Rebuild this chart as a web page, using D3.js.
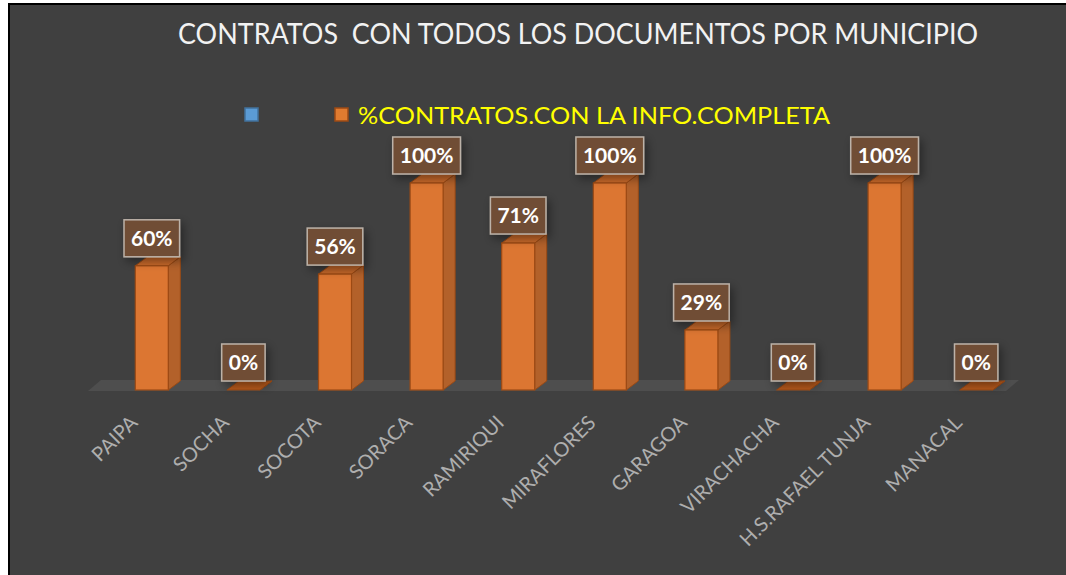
<!DOCTYPE html>
<html>
<head>
<meta charset="utf-8">
<title>Contratos por municipio</title>
<script src="https://d3js.org/d3.v7.min.js"></script>
<style>
  html, body { margin: 0; padding: 0; background: #ffffff; }
  svg { display: block; }
</style>
</head>
<body>
<div id="chart"></div>
<script>
// datos del grafico
const municipios = ["PAIPA", "SOCHA", "SOCOTA", "SORACA", "RAMIRIQUI", "MIRAFLORES", "GARAGOA", "VIRACHACHA", "H.S.RAFAEL TUNJA", "MANACAL"];
const porcentajes = [60, 0, 56, 100, 71, 100, 29, 0, 100, 0];
const titulo = "CONTRATOS  CON TODOS LOS DOCUMENTOS POR MUNICIPIO";
const serieVacia = "";
const serieNombre = "%CONTRATOS.CON LA INFO.COMPLETA";

const W = 1066, H = 575;
const font = "Lato, 'Open Sans', sans-serif";

const svg = d3.select("#chart").append("svg")
  .attr("width", W).attr("height", H);

// sombra
const defs = svg.append("defs");
const sh = defs.append("filter").attr("id", "sombra")
  .attr("x", "-40%").attr("y", "-40%").attr("width", "200%").attr("height", "200%");
sh.append("feDropShadow").attr("dx", 3).attr("dy", 4).attr("stdDeviation", 5)
  .attr("flood-color", "#000").attr("flood-opacity", 0.4);

// fondo y borde
svg.append("rect").attr("x", 9).attr("y", 4).attr("width", W - 9).attr("height", H - 4)
  .attr("fill", "#404040");
svg.append("line").attr("x1", 9).attr("x2", 9).attr("y1", 3).attr("y2", H)
  .attr("stroke", "#000").attr("stroke-width", 2);
svg.append("line").attr("x1", 8).attr("x2", W).attr("y1", 4).attr("y2", 4)
  .attr("stroke", "#000").attr("stroke-width", 2);

// titulo
svg.append("text")
  .attr("x", 178).attr("y", 44)
  .attr("textLength", 800).attr("lengthAdjust", "spacingAndGlyphs")
  .attr("font-family", font).attr("font-size", 29)
  .attr("fill", "#f2f2f2")
  .style("white-space", "pre")
  .text(titulo);

// leyenda
const leyenda = svg.append("g");
leyenda.append("rect").attr("x", 245).attr("y", 108).attr("width", 13).attr("height", 13)
  .attr("fill", "#5b9bd5").attr("stroke", "#41719c").attr("stroke-width", 1.5);
leyenda.append("text").attr("x", 262).attr("y", 124).text(serieVacia);
leyenda.append("rect").attr("x", 335).attr("y", 108).attr("width", 13).attr("height", 13)
  .attr("fill", "#e07b30").attr("stroke", "#9c4a14").attr("stroke-width", 1.5);
leyenda.append("text")
  .attr("x", 358).attr("y", 124)
  .attr("textLength", 472).attr("lengthAdjust", "spacingAndGlyphs")
  .attr("font-family", font).attr("font-size", 24)
  .attr("fill", "#ffff00")
  .text(serieNombre);

// escalas
const x = d3.scaleBand().domain(municipios).range([106, 1022]).paddingInner(0).paddingOuter(0);
const y = d3.scaleLinear().domain([0, 100]).range([390, 183]);
const barW = 33;
const dx = 12, dy = -9;

// piso
const x0 = x.range()[0] - 18, x1 = x.range()[1] - 16, yb = y(0) + 1;
svg.append("path")
  .attr("d", `M${x0},${yb} L${x1},${yb} L${x1 + dx + 1},${yb + dy - 2} L${x0 + dx + 1},${yb + dy - 2} Z`)
  .attr("fill", "#4e4e4e");

// barras 3D
const barras = svg.selectAll("g.barra")
  .data(municipios.map((m, i) => ({ m, v: porcentajes[i] })))
  .join("g").attr("class", "barra");

const cx = d => x(d.m) + x.bandwidth() / 2;
const left = d => cx(d) - barW / 2;

barras.append("path") // lado
  .attr("d", d => {
    const l = left(d) + barW, t = y(d.v), b = y(0);
    return `M${l},${b} L${l},${t} L${l + dx},${t + dy} L${l + dx},${b + dy} Z`;
  })
  .attr("fill", "#b3612a").attr("stroke", "#9c4a14").attr("stroke-width", 1);

barras.append("path") // tapa
  .attr("d", d => {
    const l = left(d), t = y(d.v);
    return `M${l},${t} L${l + barW},${t} L${l + barW + dx},${t + dy} L${l + dx},${t + dy} Z`;
  })
  .attr("fill", d => d.v === 0 ? "#b85a1c" : "#c8692a").attr("stroke", "#9c4a14").attr("stroke-width", 1);

barras.filter(d => d.v > 0).append("rect") // frente
  .attr("x", d => left(d)).attr("y", d => y(d.v))
  .attr("width", barW).attr("height", d => y(0) - y(d.v))
  .attr("fill", "#dc7632").attr("stroke", "#9c4a14").attr("stroke-width", 1.2);

// etiquetas de datos
const etiquetas = svg.selectAll("g.etiqueta")
  .data(municipios.map((m, i) => ({ m, v: porcentajes[i] })))
  .join("g").attr("class", "etiqueta");

etiquetas.each(function (d) {
  const g = d3.select(this);
  const t = g.append("text")
    .attr("x", cx(d)).attr("y", y(d.v) - 9 - 11)
    .attr("text-anchor", "middle")
    .attr("font-family", font).attr("font-weight", "bold").attr("font-size", 21)
    .attr("fill", "#ffffff")
    .text(d.v + "%");
  const bb = t.node().getBBox();
  const w = bb.width + 14, h = 37;
  g.insert("rect", "text")
    .attr("x", cx(d) - w / 2).attr("y", y(d.v) - 9 - h)
    .attr("width", w).attr("height", h)
    .attr("fill", "#704d36").attr("stroke", "#bcb2a8").attr("stroke-width", 1.5)
    .attr("filter", "url(#sombra)");
});

// eje x
svg.selectAll("text.cat")
  .data(municipios)
  .join("text").attr("class", "cat")
  .attr("transform", m => `translate(${x(m) + x.bandwidth() / 2 - 13},424) rotate(-45)`)
  .attr("text-anchor", "end")
  .attr("font-family", font).attr("font-size", 20)
  .attr("fill", "#aeaeae")
  .text(m => m);
</script>
</body>
</html>
